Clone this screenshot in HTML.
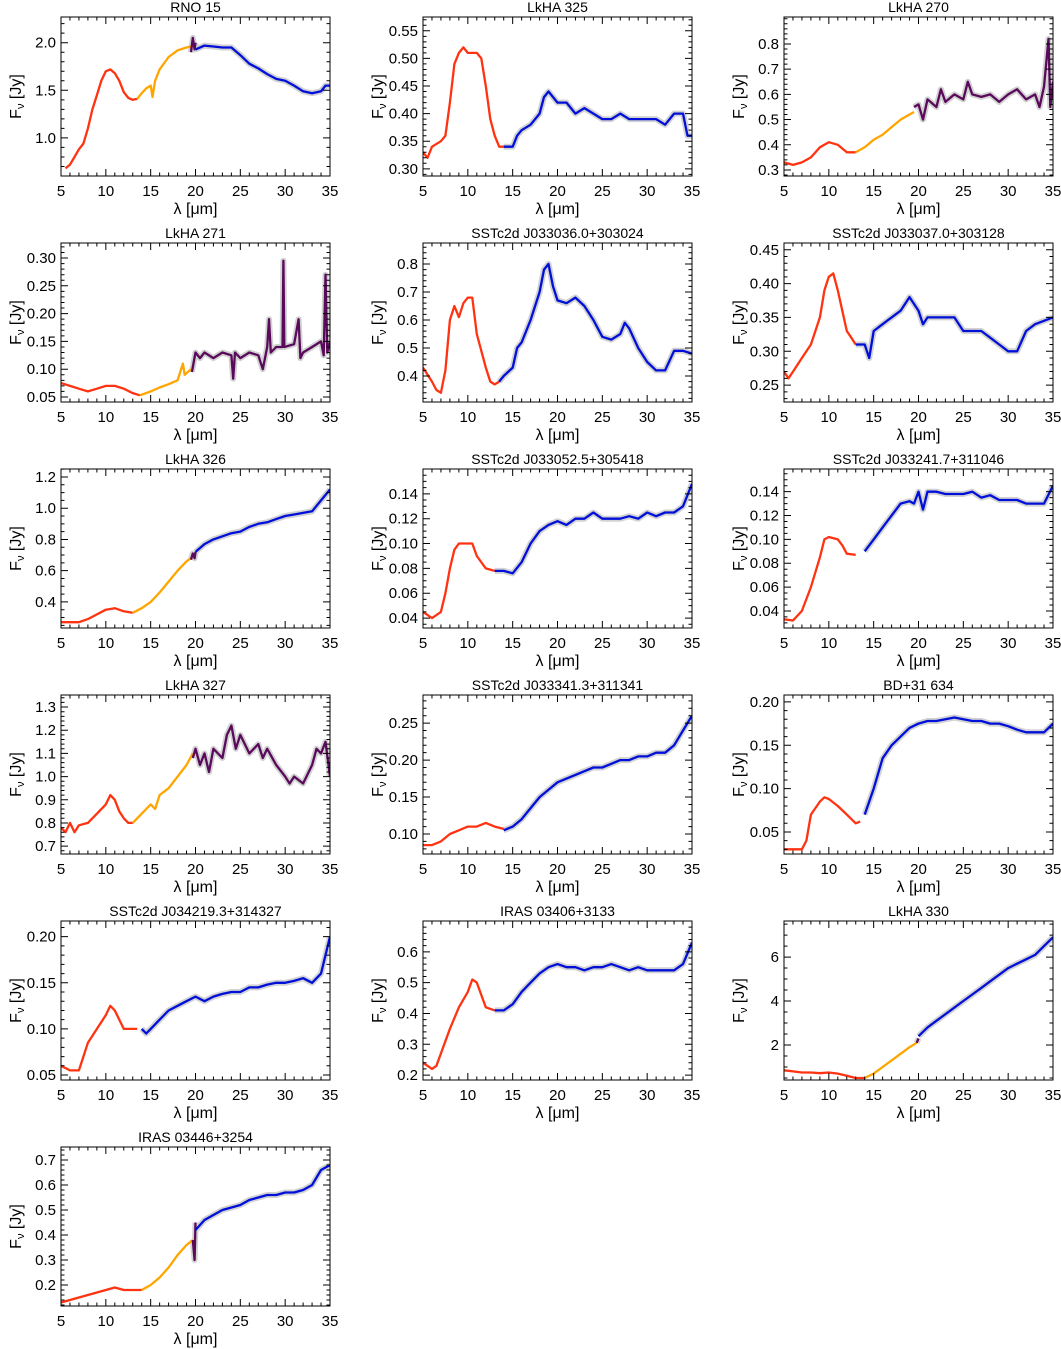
<!DOCTYPE html>
<html><head><meta charset="utf-8">
<style>
html,body{margin:0;padding:0;background:#fff;}
svg{display:block;}
text{font-family:"Liberation Sans","DejaVu Sans",sans-serif;fill:#000;}
</style></head>
<body>
<svg id="fig" width="1061" height="1349" viewBox="0 0 1061 1349" xmlns="http://www.w3.org/2000/svg"></svg>
<script>
// ---- Data (wavelength um, flux Jy) ----
const titles = ["RNO  15","LkHA  325","LkHA  270","LkHA  271","SSTc2d  J033036.0+303024","SSTc2d  J033037.0+303128","LkHA  326","SSTc2d  J033052.5+305418","SSTc2d  J033241.7+311046","LkHA  327","SSTc2d  J033341.3+311341","BD+31  634","SSTc2d  J034219.3+314327","IRAS  03406+3133","LkHA  330","IRAS  03446+3254"];
const yRanges = [[0.6,2.27],[0.287,0.575],[0.276,0.907],[0.041,0.327],[0.307,0.875],[0.225,0.46],[0.233,1.251],[0.032,0.16],[0.0257,0.159],[0.666,1.352],[0.073,0.288],[0.0246,0.208],[0.0446,0.217],[0.184,0.70],[0.41,7.64],[0.116,0.752]];
const yTicks = [[1.0,1.5,2.0],[0.30,0.35,0.40,0.45,0.50,0.55],[0.3,0.4,0.5,0.6,0.7,0.8],[0.05,0.10,0.15,0.20,0.25,0.30],[0.4,0.5,0.6,0.7,0.8],[0.25,0.30,0.35,0.40,0.45],[0.4,0.6,0.8,1.0,1.2],[0.04,0.06,0.08,0.10,0.12,0.14],[0.04,0.06,0.08,0.10,0.12,0.14],[0.7,0.8,0.9,1.0,1.1,1.2,1.3],[0.10,0.15,0.20,0.25],[0.05,0.10,0.15,0.20],[0.05,0.10,0.15,0.20],[0.2,0.3,0.4,0.5,0.6],[2,4,6],[0.2,0.3,0.4,0.5,0.6,0.7]];
const yTickLabels = [["1.0","1.5","2.0"],["0.30","0.35","0.40","0.45","0.50","0.55"],["0.3","0.4","0.5","0.6","0.7","0.8"],["0.05","0.10","0.15","0.20","0.25","0.30"],["0.4","0.5","0.6","0.7","0.8"],["0.25","0.30","0.35","0.40","0.45"],["0.4","0.6","0.8","1.0","1.2"],["0.04","0.06","0.08","0.10","0.12","0.14"],["0.04","0.06","0.08","0.10","0.12","0.14"],["0.7","0.8","0.9","1.0","1.1","1.2","1.3"],["0.10","0.15","0.20","0.25"],["0.05","0.10","0.15","0.20"],["0.05","0.10","0.15","0.20"],["0.2","0.3","0.4","0.5","0.6"],["2","4","6"],["0.2","0.3","0.4","0.5","0.6","0.7"]];
const yMinor = [0.1,0.01,0.02,0.01,0.02,0.01,0.05,0.005,0.005,0.02,0.01,0.01,0.01,0.02,0.5,0.02];
const xTicks = [5,10,15,20,25,30,35];

const redData = [
[[5.5,0.68],[6,0.72],[6.5,0.8],[7,0.88],[7.5,0.94],[8,1.1],[8.5,1.3],[9,1.45],[9.5,1.6],[10,1.7],[10.5,1.72],[11,1.68],[11.5,1.6],[12,1.48],[12.5,1.42],[13,1.4],[13.5,1.41]],
[[5,0.33],[5.5,0.32],[6,0.34],[7,0.35],[7.5,0.36],[8,0.42],[8.5,0.49],[9,0.51],[9.5,0.52],[10,0.51],[11,0.51],[11.5,0.5],[12,0.45],[12.5,0.39],[13,0.36],[13.5,0.34],[14,0.34]],
[[5,0.33],[6,0.32],[7,0.33],[8,0.35],[9,0.39],[10,0.41],[11,0.4],[12,0.37],[13,0.37]],
[[5,0.075],[6,0.07],[7,0.065],[8,0.06],[9,0.065],[10,0.07],[11,0.07],[12,0.065],[13,0.057],[13.8,0.053]],
[[5,0.43],[6,0.38],[6.5,0.35],[7,0.34],[7.5,0.42],[8,0.6],[8.5,0.65],[9,0.61],[9.5,0.66],[10,0.68],[10.5,0.68],[11,0.55],[12,0.43],[12.5,0.38],[13,0.37],[13.5,0.38]],
[[5,0.27],[5.5,0.26],[6,0.27],[7,0.29],[8,0.31],[9,0.35],[9.5,0.39],[10,0.41],[10.5,0.415],[11,0.39],[11.5,0.36],[12,0.33],[12.5,0.32],[13,0.31]],
[[5,0.27],[6,0.27],[7,0.27],[8,0.29],[9,0.32],[10,0.35],[11,0.36],[12,0.34],[13,0.33]],
[[5,0.045],[6,0.04],[7,0.045],[7.5,0.06],[8,0.08],[8.5,0.095],[9,0.1],[10,0.1],[10.5,0.1],[11,0.09],[12,0.08],[13,0.078]],
[[5,0.033],[6,0.032],[7,0.04],[8,0.06],[9,0.085],[9.5,0.1],[10,0.102],[11,0.1],[11.5,0.095],[12,0.088],[13,0.087]],
[[5,0.78],[5.5,0.76],[6,0.8],[6.5,0.76],[7,0.79],[8,0.8],[9,0.84],[10,0.88],[10.5,0.92],[11,0.9],[11.5,0.85],[12,0.82],[12.5,0.8],[13,0.8]],
[[5,0.085],[6,0.085],[7,0.09],[8,0.1],[9,0.105],[10,0.11],[11,0.11],[12,0.115],[13,0.11],[14,0.107]],
[[5,0.03],[6,0.03],[7,0.03],[7.5,0.04],[8,0.07],[9,0.085],[9.5,0.09],[10,0.088],[11,0.08],[12,0.07],[13,0.06],[13.5,0.062]],
[[5,0.06],[6,0.055],[7,0.055],[7.5,0.07],[8,0.085],[9,0.1],[10,0.115],[10.5,0.125],[11,0.12],[11.5,0.11],[12,0.1],[13,0.1],[13.5,0.1]],
[[5,0.24],[6,0.22],[6.5,0.23],[7,0.27],[8,0.35],[9,0.42],[10,0.47],[10.5,0.51],[11,0.5],[11.5,0.46],[12,0.42],[13,0.41]],
[[5,0.85],[6,0.8],[7,0.75],[8,0.75],[9,0.72],[10,0.75],[11,0.7],[12,0.6],[13,0.5],[14,0.5]],
[[5,0.13],[6,0.14],[7,0.15],[8,0.16],[9,0.17],[10,0.18],[11,0.19],[12,0.18],[13,0.18],[14,0.18]]
];
const orangeData = [
[[13.5,1.41],[14,1.47],[14.5,1.52],[15,1.55],[15.2,1.43],[15.5,1.6],[16,1.72],[17,1.85],[18,1.92],[19,1.95],[19.5,1.96]],
[],
[[13,0.37],[14,0.39],[15,0.42],[16,0.44],[17,0.47],[18,0.5],[19,0.52],[19.5,0.53]],
[[13.8,0.053],[15,0.06],[16,0.067],[17,0.073],[18,0.08],[18.6,0.11],[18.8,0.09],[19.5,0.1]],
[],[],
[[13,0.33],[14,0.36],[15,0.4],[16,0.46],[17,0.53],[18,0.6],[19,0.66],[19.5,0.68]],
[],[],
[[13,0.8],[14,0.84],[14.5,0.86],[15,0.88],[15.5,0.86],[16,0.92],[17,0.95],[18,1.0],[19,1.05],[19.7,1.1]],
[],[],[],[],
[[14,0.5],[15,0.7],[16,1.0],[17,1.3],[18,1.6],[19,1.9],[19.8,2.1]],
[[14,0.18],[15,0.2],[16,0.23],[17,0.27],[18,0.32],[19,0.36],[19.7,0.38]]
];
const purpleData = [
[[19.5,1.9],[19.7,2.05],[19.9,1.93],[20,2.0]],
[],
[[19.5,0.55],[20,0.56],[20.5,0.5],[21,0.58],[22,0.55],[22.5,0.62],[23,0.57],[24,0.6],[25,0.58],[25.5,0.65],[26,0.6],[27,0.59],[28,0.6],[29,0.57],[30,0.6],[31,0.62],[32,0.58],[33,0.6],[33.5,0.55],[34,0.63],[34.5,0.82],[34.7,0.55],[35,0.65]],
[[19.6,0.095],[20,0.13],[20.5,0.12],[21,0.13],[22,0.12],[23,0.13],[24,0.125],[24.2,0.083],[24.4,0.13],[25,0.12],[26,0.13],[27,0.125],[27.5,0.1],[28,0.14],[28.2,0.19],[28.4,0.13],[29,0.14],[29.7,0.14],[29.8,0.295],[29.9,0.14],[31,0.145],[31.5,0.19],[31.7,0.12],[32,0.13],[33,0.14],[34,0.15],[34.3,0.125],[34.5,0.27],[34.7,0.13],[35,0.15]],
[],[],
[[19.5,0.67],[19.7,0.71],[19.9,0.68],[20,0.72]],
[],[],
[[19.7,1.08],[20,1.12],[20.5,1.05],[21,1.1],[21.5,1.02],[22,1.12],[23,1.08],[23.5,1.18],[24,1.22],[24.5,1.12],[25,1.18],[26,1.1],[27,1.14],[27.5,1.08],[28,1.12],[29,1.05],[30,1.0],[30.5,0.97],[31,1.0],[32,0.97],[33,1.05],[33.5,1.12],[34,1.1],[34.5,1.15],[35,1.0]],
[],[],[],[],
[[19.8,2.1],[20,2.3]],
[[19.7,0.38],[19.9,0.3],[20,0.45]]
];
const blueData = [
[[20,1.93],[21,1.97],[22,1.96],[23,1.95],[24,1.95],[25,1.87],[26,1.78],[27,1.73],[28,1.67],[29,1.62],[30,1.6],[31,1.55],[32,1.49],[33,1.47],[34,1.49],[34.5,1.55],[35,1.55]],
[[14,0.34],[15,0.34],[15.5,0.36],[16,0.37],[17,0.38],[18,0.4],[18.5,0.43],[19,0.44],[20,0.42],[21,0.42],[22,0.4],[23,0.41],[24,0.4],[25,0.39],[26,0.39],[27,0.4],[28,0.39],[29,0.39],[30,0.39],[31,0.39],[32,0.38],[33,0.4],[34,0.4],[34.5,0.36],[35,0.36]],
[],[],
[[13.5,0.38],[14,0.4],[15,0.43],[15.5,0.5],[16,0.52],[17,0.6],[18,0.7],[18.5,0.78],[19,0.8],[19.5,0.72],[20,0.67],[21,0.66],[22,0.68],[23,0.65],[24,0.6],[25,0.54],[26,0.53],[27,0.55],[27.5,0.59],[28,0.57],[29,0.5],[30,0.45],[31,0.42],[32,0.42],[33,0.49],[34,0.49],[35,0.48]],
[[13,0.31],[14,0.31],[14.5,0.29],[15,0.33],[16,0.34],[17,0.35],[18,0.36],[19,0.38],[20,0.36],[20.5,0.34],[21,0.35],[22,0.35],[23,0.35],[24,0.35],[25,0.33],[26,0.33],[27,0.33],[28,0.32],[29,0.31],[30,0.3],[31,0.3],[32,0.33],[33,0.34],[34,0.345],[35,0.35]],
[[20,0.72],[21,0.77],[22,0.8],[23,0.82],[24,0.84],[25,0.85],[26,0.88],[27,0.9],[28,0.91],[29,0.93],[30,0.95],[31,0.96],[32,0.97],[33,0.98],[34,1.05],[35,1.12]],
[[13,0.078],[14,0.078],[15,0.076],[16,0.085],[17,0.1],[18,0.11],[19,0.115],[20,0.118],[21,0.115],[22,0.12],[23,0.12],[24,0.125],[25,0.12],[26,0.12],[27,0.12],[28,0.122],[29,0.12],[30,0.125],[31,0.122],[32,0.125],[33,0.125],[34,0.13],[35,0.148]],
[[14,0.09],[15,0.1],[16,0.11],[17,0.12],[18,0.13],[19,0.132],[19.5,0.13],[20,0.14],[20.5,0.125],[21,0.14],[22,0.14],[23,0.138],[24,0.138],[25,0.138],[26,0.14],[27,0.135],[28,0.137],[29,0.133],[30,0.133],[31,0.133],[32,0.13],[33,0.13],[34,0.13],[35,0.145]],
[],
[[14,0.105],[15,0.11],[16,0.12],[17,0.135],[18,0.15],[19,0.16],[20,0.17],[21,0.175],[22,0.18],[23,0.185],[24,0.19],[25,0.19],[26,0.195],[27,0.2],[28,0.2],[29,0.205],[30,0.205],[31,0.21],[32,0.21],[33,0.22],[34,0.24],[35,0.26]],
[[14,0.07],[15,0.1],[16,0.135],[17,0.15],[18,0.16],[19,0.17],[20,0.175],[21,0.178],[22,0.178],[23,0.18],[24,0.182],[25,0.18],[26,0.178],[27,0.178],[28,0.175],[29,0.175],[30,0.172],[31,0.168],[32,0.165],[33,0.165],[34,0.165],[35,0.175]],
[[14,0.1],[14.5,0.095],[15,0.1],[16,0.11],[17,0.12],[18,0.125],[19,0.13],[20,0.135],[21,0.13],[22,0.135],[23,0.138],[24,0.14],[25,0.14],[26,0.145],[27,0.145],[28,0.148],[29,0.15],[30,0.15],[31,0.152],[32,0.155],[33,0.15],[34,0.16],[35,0.2]],
[[13,0.41],[14,0.41],[15,0.43],[16,0.47],[17,0.5],[18,0.53],[19,0.55],[20,0.56],[21,0.55],[22,0.55],[23,0.54],[24,0.55],[25,0.55],[26,0.56],[27,0.55],[28,0.54],[29,0.55],[30,0.54],[31,0.54],[32,0.54],[33,0.54],[34,0.56],[35,0.63]],
[[20,2.4],[21,2.8],[22,3.1],[23,3.4],[24,3.7],[25,4.0],[26,4.3],[27,4.6],[28,4.9],[29,5.2],[30,5.5],[31,5.7],[32,5.9],[33,6.1],[34,6.5],[35,6.9]],
[[20,0.42],[21,0.46],[22,0.48],[23,0.5],[24,0.51],[25,0.52],[26,0.54],[27,0.55],[28,0.56],[29,0.56],[30,0.57],[31,0.57],[32,0.58],[33,0.6],[34,0.66],[35,0.68]]
];

// ---- Layout ----
const NS = "http://www.w3.org/2000/svg";
const svg = document.getElementById('fig');
const colLeft = [61, 423, 784];
const PW = 269, PH = 159;
function mk(tag, attrs, parent){
  const e = document.createElementNS(NS, tag);
  for (const k in attrs) e.setAttribute(k, attrs[k]);
  parent.appendChild(e);
  return e;
}

titles.forEach((title, i) => {
  const L = colLeft[i % 3], T = 17 + 226 * Math.floor(i / 3);
  const [y0, y1] = yRanges[i];
  const xs = v => L + (v - 5) / 30 * PW;
  const ys = v => T + PH - (v - y0) / (y1 - y0) * PH;
  const g = mk('g', {}, svg);
  
  

  const tt = mk('text', {x: L + PW / 2, y: T - 5, 'text-anchor': 'middle', 'font-size': 14, 'xml:space': 'preserve'}, g);
  tt.textContent = title;
  
  

  const clipId = 'c' + i;
  const cp = mk('clipPath', {id: clipId}, g);
  mk('rect', {x: L, y: T, width: PW, height: PH}, cp);
  const sg = mk('g', {'clip-path': 'url(#' + clipId + ')'}, g);
  const pts = d => d.map(p => xs(p[0]).toFixed(1) + ',' + ys(p[1]).toFixed(1)).join(' ');
  [purpleData[i], blueData[i]].forEach(d => {
    if (!d.length) return;
    const e = mk('polyline', {points: pts(d), fill: 'none', stroke: '#d2d2d2', 'stroke-width': 6, 'stroke-linejoin': 'round'}, sg);
    
    
  });
  const series = [[redData[i], '#ff3311', 'red-spectrum'], [orangeData[i], '#ffa500', 'orange-spectrum'], [purpleData[i], '#5a0a5a', 'purple-spectrum'], [blueData[i], '#0010d8', 'blue-spectrum']];
  series.forEach(([d, c, n]) => {
    if (!d.length) return;
    const e = mk('polyline', {points: pts(d), fill: 'none', stroke: c, 'stroke-width': 2.3, 'stroke-linejoin': 'round'}, sg);
    
    
  });

  const fr = mk('rect', {x: L, y: T, width: PW, height: PH, fill: 'none', stroke: '#000', 'stroke-width': 1}, g);
  
  

  let tp = '';
  for (let v = 5; v <= 35; v++) {
    const x = xs(v), len = (v % 5 === 0) ? 7 : 3.5;
    tp += `M${x},${T + PH}v${-len}M${x},${T}v${len}`;
  }
  const step = yMinor[i];
  for (let k = Math.ceil(y0 / step); k * step <= y1; k++) {
    const v = k * step, y = ys(v);
    const major = yTicks[i].some(t => Math.abs(t - v) < step * 0.01);
    const len = major ? 7 : 3.5;
    tp += `M${L},${y}h${len}M${L + PW},${y}h${-len}`;
  }
  mk('path', {d: tp, stroke: '#000', 'stroke-width': 1, fill: 'none'}, g);

  xTicks.forEach(v => {
    const e = mk('text', {x: xs(v), y: T + PH + 20, 'text-anchor': 'middle', 'font-size': 15}, g);
    e.textContent = String(v);
    
    
  });
  yTicks[i].forEach((v, j) => {
    const e = mk('text', {x: L - 5, y: ys(v) + 5, 'text-anchor': 'end', 'font-size': 15}, g);
    e.textContent = yTickLabels[i][j];
    
    
  });
  const xl = mk('text', {x: L + PW / 2, y: T + PH + 38, 'text-anchor': 'middle', 'font-size': 16}, g);
  xl.textContent = 'λ [μm]';
  
  
  const yl = mk('text', {x: 0, y: 0, 'text-anchor': 'middle', 'font-size': 16, transform: `translate(${L - 40},${T + PH / 2}) rotate(-90)`}, g);
  yl.innerHTML = 'F<tspan font-size="11" dy="3">ν</tspan><tspan dy="-3"> [Jy]</tspan>';
  
  
});
</script>
</body></html>
